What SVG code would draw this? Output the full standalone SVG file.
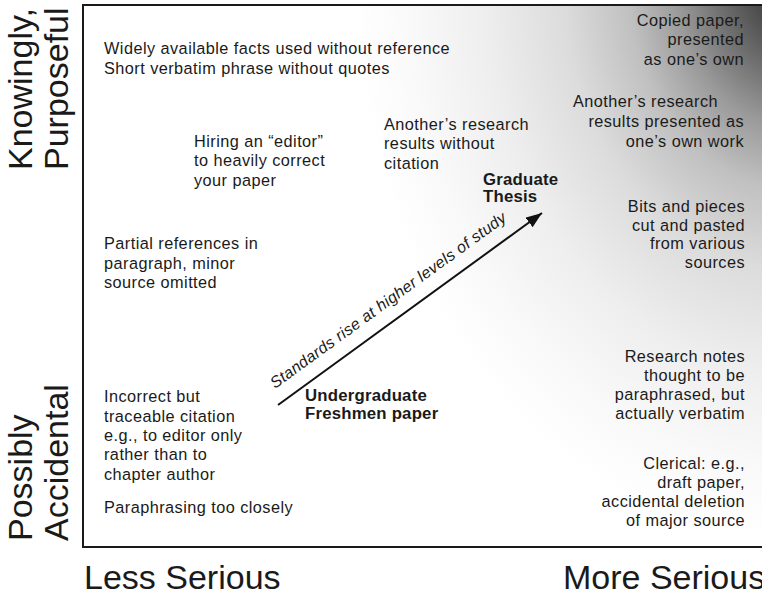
<svg xmlns="http://www.w3.org/2000/svg" width="762" height="596" viewBox="0 0 762 596">
<defs>
<radialGradient id="shade" gradientUnits="userSpaceOnUse" cx="0" cy="0" r="560" gradientTransform="translate(790,-20) scale(0.78,1)">
<stop offset="0" stop-color="#383838"/>
<stop offset="0.07" stop-color="#454545"/>
<stop offset="0.15" stop-color="#686868"/>
<stop offset="0.26" stop-color="#9a9a9a"/>
<stop offset="0.37" stop-color="#c0c0c0"/>
<stop offset="0.52" stop-color="#dcdcdc"/>
<stop offset="0.7" stop-color="#eeeeee"/>
<stop offset="0.87" stop-color="#f9f9f9"/>
<stop offset="1" stop-color="#ffffff"/>
</radialGradient>
<marker id="head" viewBox="0 0 16 12" refX="16" refY="6" markerWidth="16" markerHeight="12" markerUnits="userSpaceOnUse" orient="auto">
<path d="M0,0 L16,6 L0,12 z" fill="#111"/>
</marker>
</defs>
<style>
text{font-family:"Liberation Sans",Arial,Helvetica,sans-serif;fill:#1a1a1a}
.t{font-size:16.3px;letter-spacing:0.45px}
.b{font-size:16.8px;letter-spacing:0.2px;font-weight:bold}
.r{text-anchor:end}
.big{font-size:34px}
.i{font-size:16px;letter-spacing:0.3px;font-style:italic}
</style>
<rect x="0" y="0" width="762" height="596" fill="#fff"/>
<g id="frame">
<rect x="83" y="5" width="720" height="542" fill="url(#shade)" stroke="#1a1a1a" stroke-width="2"/>
</g>
<g id="axis-y-top"><text class="big" transform="translate(32,170) rotate(-90)">Knowingly,</text><text class="big" transform="translate(68,170) rotate(-90)">Purposeful</text></g>
<g id="axis-y-bottom"><text class="big" transform="translate(32,541) rotate(-90)">Possibly</text><text class="big" transform="translate(68,541) rotate(-90)">Accidental</text></g>
<g id="axis-x-left"><text class="big" x="84" y="589">Less Serious</text></g>
<g id="axis-x-right"><text class="big" x="563" y="589">More Serious</text></g>

<g id="widely"><text class="t" x="104" y="54">Widely available facts used without reference</text><text class="t" x="104" y="73.5">Short verbatim phrase without quotes</text></g>
<g id="hiring"><text class="t" x="194" y="147">Hiring an “editor”</text><text class="t" x="194" y="166">to heavily correct</text><text class="t" x="194" y="185.5">your paper</text></g>
<g id="another-citation"><text class="t" x="384" y="130">Another’s research</text><text class="t" x="384" y="149">results without</text><text class="t" x="384" y="168.5">citation</text></g>
<g id="graduate"><text class="b" x="483" y="185">Graduate</text><text class="b" x="483" y="202">Thesis</text></g>
<g id="copied"><text class="t r" x="744" y="25.5">Copied paper,</text><text class="t r" x="744" y="45">presented</text><text class="t r" x="744" y="65">as one’s own</text></g>
<g id="another-own"><text class="t r" x="718" y="107">Another’s research</text><text class="t r" x="744" y="127">results presented as</text><text class="t r" x="744" y="147">one’s own work</text></g>
<g id="bits"><text class="t r" x="745" y="212">Bits and pieces</text><text class="t r" x="745" y="230.5">cut and pasted</text><text class="t r" x="745" y="249">from various</text><text class="t r" x="745" y="267.5">sources</text></g>
<g id="partial"><text class="t" x="104" y="249">Partial references in</text><text class="t" x="104" y="268.5">paragraph, minor</text><text class="t" x="104" y="288">source omitted</text></g>
<g id="research-notes"><text class="t r" x="745" y="362">Research notes</text><text class="t r" x="745" y="381">thought to be</text><text class="t r" x="745" y="400">paraphrased, but</text><text class="t r" x="745" y="419">actually verbatim</text></g>
<g id="undergraduate"><text class="b" x="305" y="400.5">Undergraduate</text><text class="b" x="305" y="418.5">Freshmen paper</text></g>
<g id="incorrect"><text class="t" x="104" y="402">Incorrect but</text><text class="t" x="104" y="421.5">traceable citation</text><text class="t" x="104" y="441">e.g., to editor only</text><text class="t" x="104" y="460">rather than to</text><text class="t" x="104" y="479.5">chapter author</text></g>
<g id="clerical"><text class="t r" x="745" y="469">Clerical: e.g.,</text><text class="t r" x="745" y="488">draft paper,</text><text class="t r" x="745" y="507">accidental deletion</text><text class="t r" x="745" y="526">of major source</text></g>
<g id="paraphrasing"><text class="t" x="104" y="513">Paraphrasing too closely</text></g>

<g id="connectors">
<line x1="278" y1="405" x2="542" y2="213" stroke="#111" stroke-width="2" marker-end="url(#head)"/>
<text class="i" transform="translate(275,389) rotate(-36)">Standards rise at higher levels of study</text>
</g>
</svg>
